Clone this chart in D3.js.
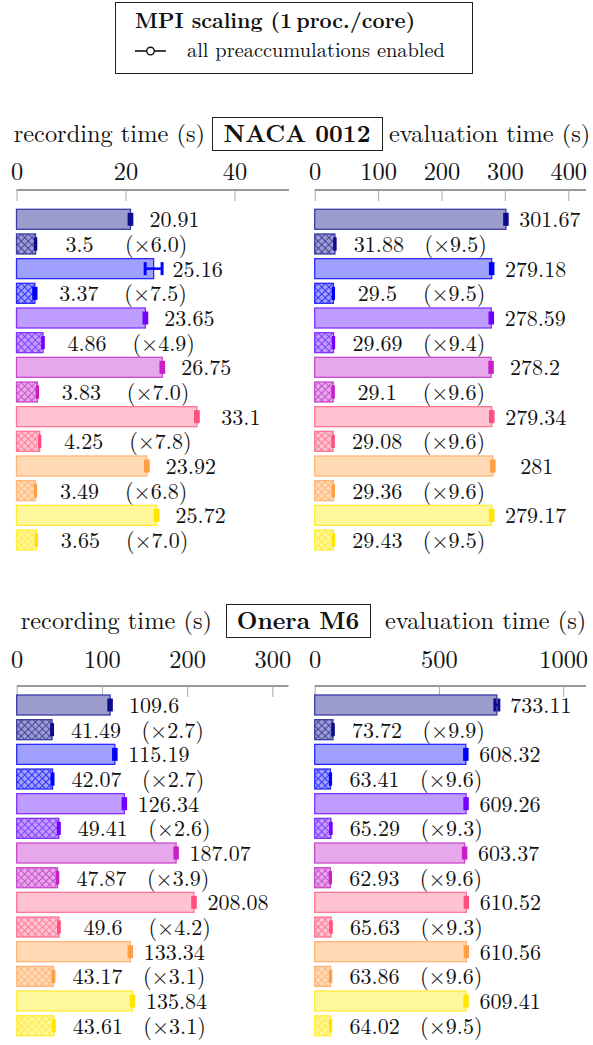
<!DOCTYPE html>
<html><head><meta charset="utf-8">
<script src="https://cdn.jsdelivr.net/npm/d3@7"></script>
<style>body{margin:0;background:#fff}svg{display:block}svg text{font-family:'Latin Modern Roman';fill:#111}</style>
</head><body><svg id="c" width="593" height="1045"></svg>
<script>
// ---- data ----
const configs = ["c1","c2","c3","c4","c5","c6","c7"];
const nacaRec      = [20.91, 25.16, 23.65, 26.75, 33.1, 23.92, 25.72];
const nacaRecErr   = [0.25, 1.55, 0.25, 0.25, 0.25, 0.25, 0.25];
const nacaRecPre   = [3.5, 3.37, 4.86, 3.83, 4.25, 3.49, 3.65];
const nacaRecRatio = ["6.0","7.5","4.9","7.0","7.8","6.8","7.0"];
const nacaEval      = [301.67, 279.18, 278.59, 278.2, 279.34, 281, 279.17];
const nacaEvalErr   = [2, 2, 2, 2, 2, 2, 2];
const nacaEvalPre   = [31.88, 29.5, 29.69, 29.1, 29.08, 29.36, 29.43];
const nacaEvalRatio = ["9.5","9.5","9.4","9.6","9.6","9.6","9.5"];
const oneraRec      = [109.6, 115.19, 126.34, 187.07, 208.08, 133.34, 135.84];
const oneraRecErr   = [1.5, 1.5, 1.5, 1.5, 1.5, 1.5, 1.5];
const oneraRecPre   = [41.49, 42.07, 49.41, 47.87, 49.6, 43.17, 43.61];
const oneraRecRatio = ["2.7","2.7","2.6","3.9","4.2","3.1","3.1"];
const oneraEval      = [733.11, 608.32, 609.26, 603.37, 610.52, 610.56, 609.41];
const oneraEvalErr   = [8, 5, 5, 5, 5, 5, 5];
const oneraEvalPre   = [73.72, 63.41, 65.29, 62.93, 65.63, 63.86, 64.02];
const oneraEvalRatio = ["9.9","9.6","9.3","9.6","9.3","9.6","9.5"];
const ticksNacaRec = [0, 20, 40];
const ticksNacaEval = [0, 100, 200, 300, 400];
const ticksOneraRec = [0, 100, 200, 300];
const ticksOneraEval = [0, 500, 1000];
const fills   = ["#9d9dcd", "#a0a0ff", "#bf9cff", "#e6a8ea", "#ffc2d0", "#ffdab5", "#fff79c"];
const strokes = ["#3b3ba3", "#2a2aff", "#8233ff", "#c94acb", "#ff7495", "#ffb478", "#ffec3a"];
const marks   = ["#0c0c8e", "#0000ff", "#7300ff", "#c81fc8", "#ff4f80", "#ff9f45", "#ffe400"];

const FONT = "'Latin Modern Roman'";
const svg = d3.select("#c");
const defs = svg.append("defs");
configs.forEach((c,i)=>{
  const p = defs.append("pattern").attr("id","h"+i).attr("patternUnits","userSpaceOnUse")
    .attr("width",5).attr("height",5).attr("patternTransform","rotate(45)");
  p.append("rect").attr("width",5).attr("height",5).attr("fill",fills[i]);
  p.append("line").attr("x1",0).attr("y1",0).attr("x2",5).attr("y2",0).attr("stroke",strokes[i]).attr("stroke-width",1.8);
  p.append("line").attr("x1",0).attr("y1",0).attr("x2",0).attr("y2",5).attr("stroke",strokes[i]).attr("stroke-width",1.8);
});

// ---- legend ----
const lg = svg.append("g").attr("font-family",FONT);
lg.append("rect").attr("x",115.5).attr("y",2.5).attr("width",357).attr("height",71).attr("fill","#fff").attr("stroke","#222").attr("stroke-width",1);
lg.append("text").attr("x",135).attr("y",28).attr("font-size",21).attr("font-weight","bold")
  .text("MPI scaling (1\u2009proc./core)");
lg.append("line").attr("x1",135).attr("x2",166).attr("y1",51).attr("y2",51).attr("stroke","#111").attr("stroke-width",1.6);
lg.append("circle").attr("cx",150.5).attr("cy",51).attr("r",3.8).attr("fill","#fff").attr("stroke","#111").attr("stroke-width",1.4);
lg.append("text").attr("x",187).attr("y",57).attr("font-size",20.4)
  .text("all preaccumulations enabled");

// ---- panels ----
function header(y0, name, boxL, boxR, leftEnd, rightStart){
  const g = svg.append("g").attr("font-family",FONT);
  g.append("rect").attr("x",boxL+0.5).attr("y",y0+0.5).attr("width",boxR-boxL).attr("height",33).attr("fill","none").attr("stroke","#222").attr("stroke-width",1);
  g.append("text").attr("x",(boxL+boxR)/2).attr("y",y0+25).attr("text-anchor","middle").attr("font-size",24).attr("font-weight","bold").text(name);
  g.append("text").attr("x",leftEnd).attr("y",y0+25).attr("text-anchor","end").attr("font-size",24.4).text("recording time (s)");
  g.append("text").attr("x",rightStart).attr("y",y0+25).attr("font-size",24.4).text("evaluation time (s)");
}

function panel(opts){
  const {x0, x1, max, ticks, axisY, labelY, barTop, full, err, pre, ratio} = opts;
  const x = d3.scaleLinear().domain([0,max]).range([x0,x1]);
  const step = 24.67, bw = 20;
  const y = d3.scaleBand().domain(d3.range(14)).range([barTop - (step-bw)/2, barTop - (step-bw)/2 + 14*step]).paddingInner((step-bw)/step).paddingOuter((step-bw)/step/2);
  const g = svg.append("g").attr("font-family",FONT);
  // axis
  const ax = d3.axisBottom(x).tickValues(ticks).tickSize(11).tickFormat(d3.format("d"));
  const ag = g.append("g").attr("transform",`translate(0,${axisY})`).call(ax).attr("font-family",FONT);
  ag.select(".domain").attr("stroke","#777").attr("stroke-width",1.4).attr("d",`M${x0},0H${x1}`);
  ag.selectAll(".tick line").attr("stroke","#aaa").attr("stroke-width",1);
  ag.selectAll(".tick text").attr("y", labelY-axisY).attr("dy",0).attr("font-size",24.4).attr("fill","#111");
  // rows
  const rows = [];
  configs.forEach((c,i)=>{
    rows.push({i, v: full[i], e: err[i], hatched:false, idx: 2*i});
    rows.push({i, v: pre[i], e: err[i]*pre[i]/full[i], hatched:true, idx: 2*i+1, r: ratio[i]});
  });
  const rg = g.selectAll(".row").data(rows).join("g");
  rg.append("rect").attr("x",x(0)).attr("y",d=>y(d.idx)).attr("width",d=>x(d.v)-x(0)).attr("height",y.bandwidth())
    .attr("fill",d=>d.hatched?`url(#h${d.i})`:fills[d.i]).attr("stroke",d=>strokes[d.i]).attr("stroke-width",1.3);
  // error marks
  rg.each(function(d){
    const s = d3.select(this), cy = y(d.idx)+y.bandwidth()/2;
    const a = x(d.v-d.e), b = x(d.v+d.e);
    s.append("line").attr("x1",a).attr("x2",b).attr("y1",cy).attr("y2",cy).attr("stroke",marks[d.i]).attr("stroke-width",2.5);
    [a,b].forEach(px=>s.append("line").attr("x1",px).attr("x2",px).attr("y1",cy-6.5).attr("y2",cy+6.5).attr("stroke",marks[d.i]).attr("stroke-width",3));
  });
  rg.append("text").attr("x",d=>x(d.v)+44).attr("y",d=>y(d.idx)+y.bandwidth()/2+8).attr("text-anchor","middle").attr("font-size",22).text(d=>String(d.v));
  rg.filter(d=>d.hatched).append("text").attr("x",d=>x(d.v)+89.5).attr("y",d=>y(d.idx)+y.bandwidth()/2+8).attr("font-size",22).text(d=>`(\u00d7${d.r})`);
}

header(117, "NACA 0012", 212, 382, 205, 389);
panel({x0:16.5, x1:289, max:50, ticks:ticksNacaRec, axisY:190, labelY:180, barTop:209.3, full:nacaRec, err:nacaRecErr, pre:nacaRecPre, ratio:nacaRecRatio});
panel({x0:314.7, x1:586, max:428, ticks:ticksNacaEval, axisY:190, labelY:180, barTop:209.3, full:nacaEval, err:nacaEvalErr, pre:nacaEvalPre, ratio:nacaEvalRatio});

header(604, "Onera M6", 226, 370, 212, 385);
panel({x0:16.7, x1:288.5, max:319, ticks:ticksOneraRec, axisY:686, labelY:668, barTop:695, full:oneraRec, err:oneraRecErr, pre:oneraRecPre, ratio:oneraRecRatio});
panel({x0:314.7, x1:586, max:1092, ticks:ticksOneraEval, axisY:686, labelY:668, barTop:695, full:oneraEval, err:oneraEvalErr, pre:oneraEvalPre, ratio:oneraEvalRatio});
</script></body></html>
